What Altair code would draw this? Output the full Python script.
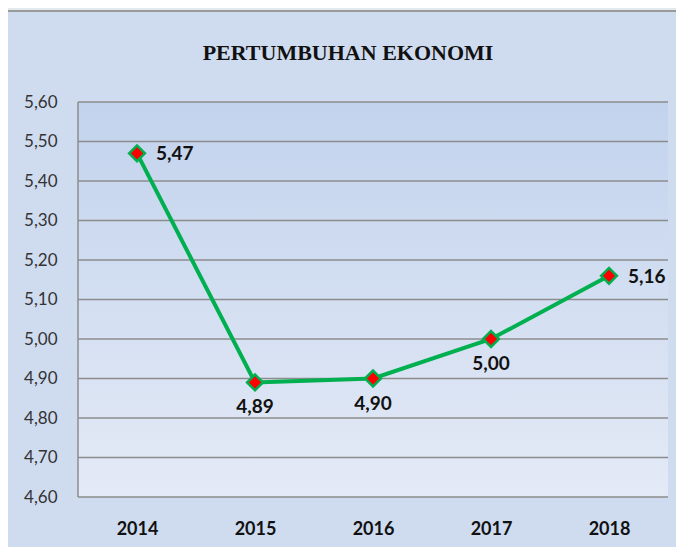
import altair as alt
import pandas as pd

years = ["2014", "2015", "2016", "2017", "2018"]
growth = [5.47, 4.89, 4.90, 5.00, 5.16]
y_ticks = [4.6, 4.7, 4.8, 4.9, 5.0, 5.1, 5.2, 5.3, 5.4, 5.5, 5.6]
right_label_years = ["2014", "2018"]
below_label_years = ["2015", "2016", "2017"]
title_text = "PERTUMBUHAN EKONOMI"

df = pd.DataFrame({"year": years, "growth": growth})
grid_df = pd.DataFrame({"growth": y_ticks})
one = pd.DataFrame({"t": [0]})

W, H = 590, 395
GREEN = "#00b050"
GRID = "#8c8c8c"

x_enc = alt.X(
    "year:N",
    sort=years,
    scale=alt.Scale(padding=0.5),
    axis=alt.Axis(
        title=None, labelAngle=0, ticks=False, domain=False,
        labelFont="Lato", labelFontSize=18, labelFontWeight="bold",
        labelColor="#111111", labelPadding=23, labelBaseline="top", grid=False,
    ),
)
y_enc = alt.Y(
    "growth:Q",
    scale=alt.Scale(domain=[4.6, 5.6], nice=False, zero=False),
    axis=alt.Axis(
        title=None, values=y_ticks, ticks=False, domain=False, grid=False,
        labelFont="Lato", labelFontSize=17, labelColor="#333333",
        labelPadding=21,
        labelExpr="replace(format(datum.value, '.2f'), '.', ',')",
    ),
)

bg = alt.Chart(one).mark_rect(
    color=alt.LinearGradient(
        gradient="linear",
        stops=[
            alt.GradientStop(color="#c2d3ed", offset=0),
            alt.GradientStop(color="#e4eaf6", offset=1),
        ],
        x1=0, x2=0, y1=0, y2=1,
    )
).encode(x=alt.value(0), x2=alt.value(W), y=alt.value(0), y2=alt.value(H))

grid = alt.Chart(grid_df).mark_rule(color=GRID, strokeWidth=1.5).encode(
    y=y_enc, x=alt.value(0), x2=alt.value(W)
)
left_border = alt.Chart(one).mark_rule(color=GRID, strokeWidth=1.5).encode(
    x=alt.value(0), y=alt.value(0), y2=alt.value(H)
)

base = alt.Chart(df).transform_calculate(
    label="replace(format(datum.growth, '.2f'), '.', ',')"
)

line = base.mark_line(color=GREEN, strokeWidth=4).encode(x=x_enc, y=y_enc)
points = base.mark_point(
    shape="diamond", size=250, filled=True, fill="#ff0000",
    stroke=GREEN, strokeWidth=2.5, opacity=1,
).encode(x=x_enc, y=y_enc)

labels_right = base.transform_filter(
    alt.FieldOneOfPredicate(field="year", oneOf=right_label_years)
).mark_text(
    align="left", baseline="middle", dx=19, dy=1,
    font="Lato", fontSize=19, fontWeight="bold", color="#111111",
).encode(x=x_enc, y=y_enc, text="label:N")

labels_below = base.transform_filter(
    alt.FieldOneOfPredicate(field="year", oneOf=below_label_years)
).mark_text(
    align="center", baseline="middle", dy=25,
    font="Lato", fontSize=19, fontWeight="bold", color="#111111",
).encode(x=x_enc, y=y_enc, text="label:N")

title = alt.Chart(pd.DataFrame({"t": [title_text]})).mark_text(
    font="Liberation Serif", fontSize=22, fontWeight="bold",
    color="#111111", align="center", baseline="middle",
).encode(text="t:N", x=alt.value(270), y=alt.value(-49))

top_strip = alt.Chart(one).mark_rect(color="#e3eaee").encode(
    x=alt.value(-70), x2=alt.value(W + 8), y=alt.value(-94), y2=alt.value(-91)
)
top_border = alt.Chart(one).mark_rule(color="#9a9a9a", strokeWidth=2).encode(
    x=alt.value(-70), x2=alt.value(W + 8), y=alt.value(-91)
)

chart = alt.layer(
    bg, grid, left_border, top_strip, top_border, title,
    line, points, labels_right, labels_below,
).properties(
    width=W, height=H,
    autosize=alt.AutoSizeParams(type="none"),
    padding={"left": 70, "top": 94, "right": 8, "bottom": 50},
    background="#cfdcf0",
).configure_view(stroke=None)

chart.save("out.html", embed_options={"renderer": "svg", "actions": False})
